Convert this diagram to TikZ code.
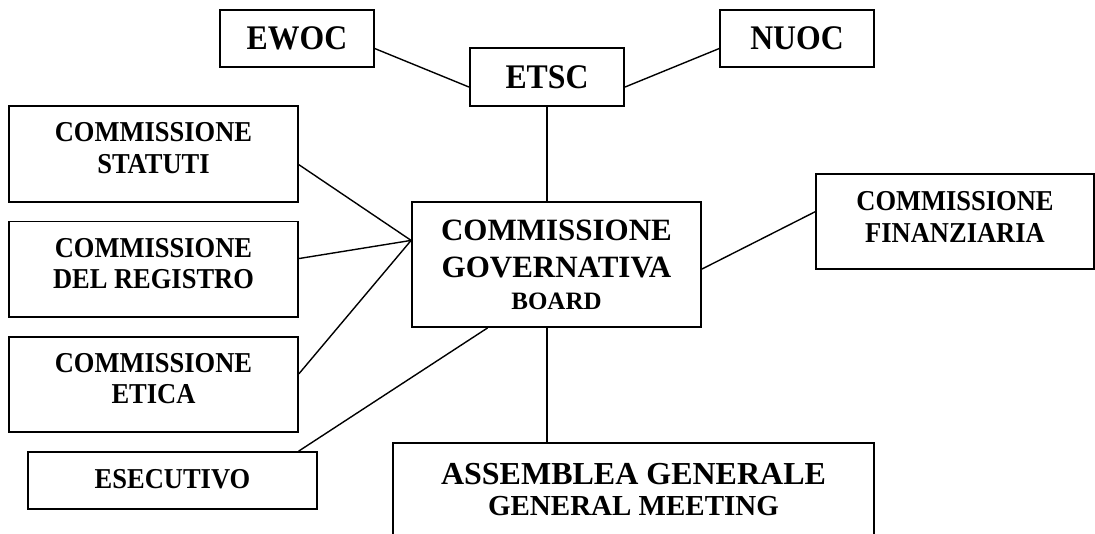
\documentclass[tikz,border=0pt]{standalone}
\usepackage{fontspec}
\setmainfont{Liberation Serif}
\newfontfamily\narrowfont{Liberation Serif}[FakeStretch=0.92]
\usetikzlibrary{calc}

\begin{document}
\begin{tikzpicture}[x=1pt, y=-1pt, node distance=115.25pt,
		box/.style={draw, line width=1.8pt, align=center, inner sep=0pt},
		comm/.style={box, minimum width=289pt, minimum height=95.5pt, text depth=12pt, font=\narrowfont\fontsize{28.8}{31.5}\selectfont\bfseries},
		oc/.style={box, minimum width=154pt, minimum height=57.5pt, font=\narrowfont\fontsize{34.5}{38}\selectfont\bfseries},
		link/.style={line width=1.4pt}]
		\useasboundingbox (0,0) rectangle (1095,533);
		\clip (0,0) rectangle (1095,533);

		% top row
		\node[oc] (ewoc) at (297,38.5) {EWOC};
		\node[oc] (etsc) at (547,77) {ETSC};
		\node[oc] (nuoc) at (797,38.5) {NUOC};

		% board and assembly
		\node[box, minimum width=289pt, minimum height=125pt, font=\fontsize{31}{37}\selectfont\bfseries] (board) at (556.5,264.5)
			{COMMISSIONE\\GOVERNATIVA\\[-5pt]{\fontsize{25}{30}\selectfont BOARD}};
		\node[box, anchor=north, minimum width=481pt, minimum height=94pt, font=\fontsize{32}{31}\selectfont\bfseries] (assemblea) at (633.5,442)
			{ASSEMBLEA GENERALE\\{\fontsize{29}{31}\selectfont GENERAL MEETING}};

		% commissions
		\node[comm] (statuti) at (153.5,154) {COMMISSIONE\\STATUTI};
		\node[comm, below of=statuti] (registro) {COMMISSIONE\\DEL REGISTRO};
		\node[comm, below of=registro] (etica) {COMMISSIONE\\ETICA};
		\node[comm, minimum width=278pt, text depth=9pt, font=\narrowfont\fontsize{28.8}{32}\selectfont\bfseries] (finanza) at (955,221.5) {COMMISSIONE\\FINANZIARIA};
		\node[comm, minimum height=57pt, text depth=3pt] (esecutivo) at (172.5,480.5) {ESECUTIVO};

		\coordinate (hub) at ($(board.north west)!.31!(board.south west)$);

		\path[link]
		($(ewoc.north east)!.67!(ewoc.south east)$) edge ($(etsc.north west)!.67!(etsc.south west)$)
		($(nuoc.north west)!.67!(nuoc.south west)$) edge ($(etsc.north east)!.67!(etsc.south east)$)
		(etsc.south) edge (etsc.south |- board.north)
		(etsc.south |- board.south) edge (etsc.south |- assemblea.north)
		($(statuti.north east)!.61!(statuti.south east)$) edge (hub)
		($(registro.north east)!.39!(registro.south east)$) edge (hub)
		($(etica.north east)!.39!(etica.south east)$) edge (hub)
		($(board.north east)!.536!(board.south east)$) edge ($(finanza.north west)!.4!(finanza.south west)$)
		($(board.south west)!.263!(board.south east)$) edge ($(esecutivo.north west)!.934!(esecutivo.north east)$);
	\end{tikzpicture}
\end{document}
